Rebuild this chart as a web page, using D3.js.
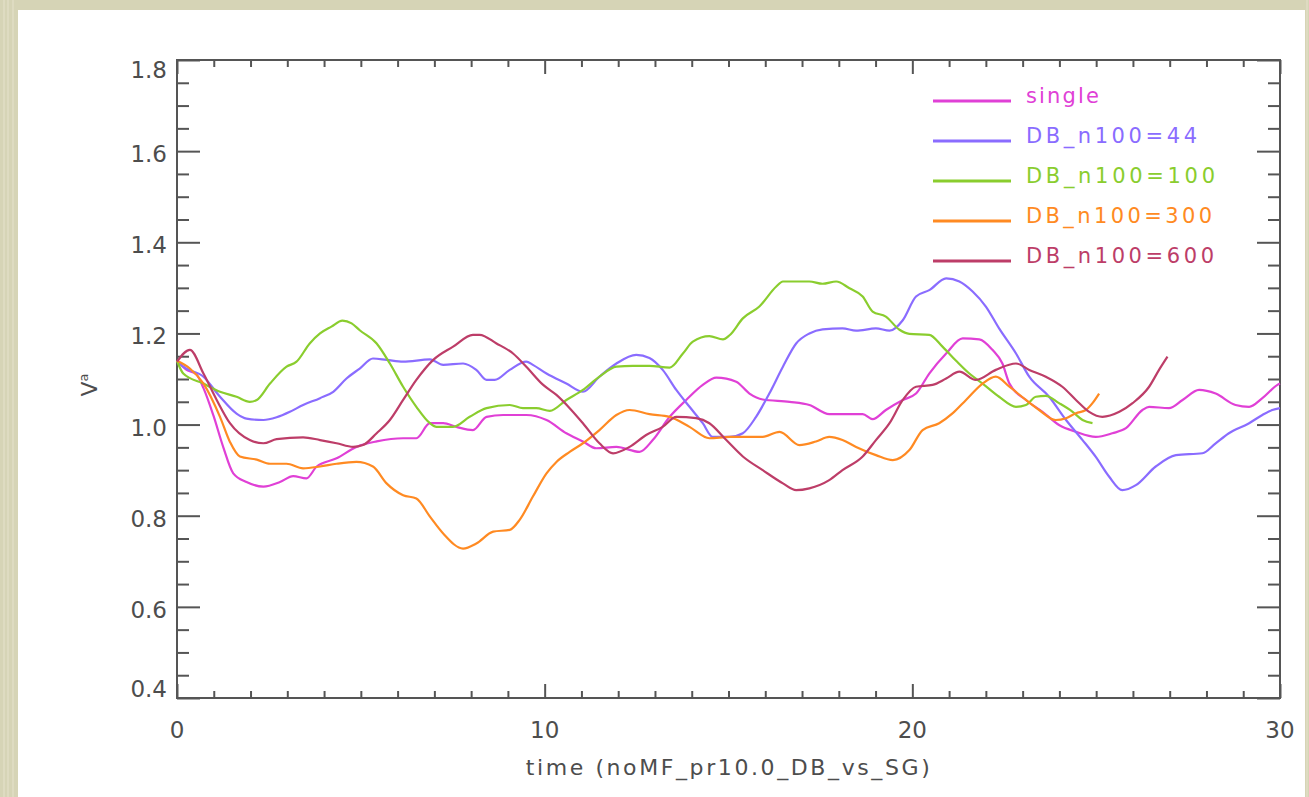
<!DOCTYPE html>
<html><head><meta charset="utf-8">
<script src="https://cdn.jsdelivr.net/npm/d3@7"></script>
<style>body{margin:0;background:#d6d4b6;} svg{display:block}</style>
</head><body><svg id="c" width="1309" height="797"></svg>
<script>
// ---------- data ----------
const seriesNames = ["single", "DB_n100=44", "DB_n100=100", "DB_n100=300", "DB_n100=600"];
const seriesColors = ["#e040d6", "#8a6cff", "#8acd2e", "#ff8a22", "#bd3d68"];

const tSingle = [0,0.26,0.53,0.72,0.99,1.26,1.53,1.89,2.35,2.8,3.16,3.52,3.8,4.34,4.88,5.43,6.15,6.51,6.88,7.24,7.6,8.05,8.42,8.87,9.5,10.05,10.59,11.04,11.4,11.95,12.58,12.94,13.4,13.85,14.3,14.67,15.21,15.57,15.93,16.66,17.2,17.74,18.65,18.92,19.28,19.74,20.1,20.46,20.92,21.37,21.82,22.18,22.45,22.64,23.09,23.54,23.99,24.45,24.99,25.44,25.81,26.26,26.44,26.98,27.35,27.8,28.25,28.79,29.16,29.52,29.93,30];
const vSingle = [1.14,1.12,1.11,1.08,1.02,0.95,0.893,0.874,0.864,0.874,0.887,0.882,0.908,0.926,0.951,0.963,0.97,0.97,1.003,1.003,0.995,0.988,1.017,1.021,1.021,1.01,0.981,0.963,0.948,0.951,0.94,0.966,1.017,1.054,1.087,1.103,1.094,1.068,1.055,1.05,1.043,1.023,1.023,1.012,1.032,1.054,1.068,1.112,1.156,1.189,1.187,1.164,1.134,1.09,1.054,1.028,0.999,0.984,0.973,0.981,0.992,1.032,1.039,1.036,1.054,1.076,1.068,1.043,1.039,1.058,1.087,1.09];

const tDB44 = [0,0.17,0.72,1.17,1.62,1.89,2.35,2.71,3.07,3.43,3.89,4.25,4.61,4.97,5.33,5.7,6.15,6.88,7.24,7.78,8.14,8.42,8.64,9.05,9.5,9.68,10.05,10.59,11.04,11.49,11.95,12.49,12.85,13.21,13.58,13.94,14.3,14.57,15.03,15.39,15.75,16.11,16.48,16.84,17.2,17.56,18.1,18.47,19.01,19.38,19.74,20.1,20.46,20.92,21.28,21.64,22.0,22.36,22.82,23.18,23.72,24.18,24.63,24.99,25.35,25.71,26.08,26.62,27.17,27.89,28.25,28.61,29.16,29.52,29.79,30];
const vDB44 = [1.14,1.127,1.105,1.061,1.024,1.013,1.01,1.016,1.028,1.043,1.058,1.072,1.101,1.123,1.145,1.142,1.138,1.143,1.131,1.134,1.12,1.098,1.098,1.12,1.138,1.131,1.112,1.09,1.072,1.105,1.134,1.153,1.146,1.12,1.076,1.039,1.003,0.973,0.973,0.981,1.017,1.068,1.127,1.178,1.2,1.209,1.211,1.206,1.211,1.206,1.229,1.281,1.295,1.321,1.314,1.292,1.259,1.211,1.156,1.105,1.061,1.01,0.966,0.929,0.886,0.856,0.867,0.908,0.933,0.937,0.959,0.981,1.003,1.021,1.032,1.036];

const tDB100 = [0,0.17,0.72,1.17,1.62,1.98,2.17,2.53,2.98,3.25,3.61,3.89,4.2,4.5,4.75,4.97,5.43,5.79,6.15,6.51,6.88,7.06,7.51,7.96,8.42,9.05,9.41,9.77,10.14,10.59,11.04,11.49,11.95,12.4,12.85,13.4,13.76,14.03,14.48,14.85,15.03,15.39,15.84,16.3,16.48,17.2,17.56,17.93,18.29,18.65,18.92,19.28,19.65,19.92,20.46,20.82,21.19,21.55,21.91,22.36,22.82,23.09,23.36,23.63,23.99,24.36,24.63,24.9];
const vDB100 = [1.14,1.112,1.09,1.072,1.061,1.05,1.054,1.09,1.127,1.138,1.178,1.2,1.215,1.228,1.222,1.207,1.178,1.134,1.083,1.039,1.003,0.995,0.995,1.017,1.036,1.043,1.036,1.036,1.03,1.054,1.076,1.105,1.127,1.129,1.129,1.125,1.156,1.182,1.194,1.187,1.196,1.233,1.259,1.303,1.314,1.314,1.309,1.314,1.299,1.281,1.248,1.237,1.208,1.199,1.197,1.171,1.14,1.112,1.09,1.061,1.039,1.043,1.061,1.063,1.047,1.028,1.01,1.003];

const tDB300 = [0,0.35,0.72,1.17,1.44,1.71,2.17,2.53,2.98,3.43,3.89,4.34,4.88,5.33,5.7,6.15,6.51,6.88,7.24,7.78,8.14,8.6,9.05,9.32,9.68,10.05,10.32,10.68,11.04,11.49,11.95,12.31,12.85,13.4,13.94,14.48,15.03,15.93,16.39,16.93,17.38,17.74,18.1,18.47,19.01,19.47,19.92,20.28,20.73,21.1,21.46,21.91,22.27,22.64,23.09,23.45,23.9,24.18,24.45,24.72,24.9,25.08];
const vDB300 = [1.14,1.123,1.09,1.017,0.962,0.93,0.923,0.914,0.914,0.904,0.908,0.914,0.918,0.908,0.871,0.845,0.838,0.798,0.761,0.728,0.739,0.765,0.769,0.791,0.842,0.893,0.918,0.94,0.959,0.988,1.021,1.032,1.023,1.017,0.995,0.97,0.973,0.973,0.984,0.955,0.963,0.973,0.966,0.951,0.933,0.922,0.944,0.988,1.003,1.025,1.054,1.09,1.105,1.083,1.054,1.032,1.01,1.014,1.025,1.032,1.047,1.068];

const tDB600 = [0,0.35,0.72,1.08,1.44,1.98,2.35,2.71,3.43,3.89,4.34,4.79,5.06,5.43,5.79,6.15,6.51,6.97,7.51,8.05,8.23,8.69,9.14,9.5,9.96,10.32,10.68,11.04,11.49,11.86,12.31,12.76,13.21,13.58,14.12,14.48,14.94,15.39,15.93,16.48,16.84,17.2,17.74,18.1,18.65,19.01,19.38,19.74,20.1,20.55,20.92,21.28,21.73,22.27,22.82,23.18,23.63,24.08,24.45,24.81,25.17,25.63,25.99,26.44,26.71,26.94];
const vDB600 = [1.138,1.164,1.112,1.054,1.003,0.966,0.959,0.968,0.972,0.966,0.959,0.951,0.955,0.981,1.01,1.054,1.098,1.142,1.171,1.197,1.197,1.178,1.156,1.127,1.087,1.065,1.036,1.003,0.959,0.937,0.951,0.977,0.995,1.017,1.014,1.003,0.966,0.93,0.9,0.871,0.856,0.86,0.878,0.9,0.93,0.966,1.003,1.054,1.083,1.087,1.101,1.116,1.098,1.12,1.134,1.12,1.105,1.083,1.054,1.028,1.017,1.028,1.047,1.083,1.12,1.149];

const xTickValues = [0, 10, 20, 30];
const xTickLabels = ["0", "10", "20", "30"];
const yTickValues = [0.4, 0.6, 0.8, 1.0, 1.2, 1.4, 1.6, 1.8];
const yTickLabels = ["0.4", "0.6", "0.8", "1.0", "1.2", "1.4", "1.6", "1.8"];
const xTitle = "time (noMF_pr10.0_DB_vs_SG)";

// ---------- drawing ----------
const svg = d3.select("#c");
svg.append("rect").attr("x",0).attr("y",0).attr("width",1309).attr("height",797).attr("fill","#d6d4b6");
const streaks = [3, 7, 12, 1306];
svg.selectAll("rect.streak").data(streaks).enter().append("rect")
  .attr("x", d => d).attr("y", 0).attr("width", 2).attr("height", 797)
  .attr("fill", "#e2e0c8").attr("opacity", 0.6);
svg.append("rect").attr("x",18).attr("y",10).attr("width",1287).attr("height",800).attr("fill","#ffffff");

const x = d3.scaleLinear().domain([0, 30]).range([177, 1280]);
const y = d3.scaleLinear().domain([0.4, 1.8]).range([698, 60]);

const axisColor = "#555555";
const xMinor = d3.range(0, 31, 1).filter(v => v % 10 !== 0);
const yMinor = d3.range(0, 29).map(i => +(0.4 + i * 0.05).toFixed(2)).filter(v => Math.abs(v*5 - Math.round(v*5)) > 1e-6);

function styleAxis(g) {
  g.select(".domain").remove();
  g.selectAll(".tick line").attr("stroke", axisColor).attr("stroke-width", 2);
  g.selectAll(".tick text").remove();
}
svg.append("g").attr("transform","translate(0,698)").call(d3.axisBottom(x).tickValues(xTickValues).tickSize(-14)).call(styleAxis);
svg.append("g").attr("transform","translate(0,698)").call(d3.axisBottom(x).tickValues(xMinor).tickSize(-7)).call(styleAxis);
svg.append("g").attr("transform","translate(0,60)").call(d3.axisTop(x).tickValues(xTickValues).tickSize(-14)).call(styleAxis);
svg.append("g").attr("transform","translate(0,60)").call(d3.axisTop(x).tickValues(xMinor).tickSize(-7)).call(styleAxis);
svg.append("g").attr("transform","translate(177,0)").call(d3.axisLeft(y).tickValues(yTickValues).tickSize(-23)).call(styleAxis);
svg.append("g").attr("transform","translate(177,0)").call(d3.axisLeft(y).tickValues(yMinor).tickSize(-12)).call(styleAxis);
svg.append("g").attr("transform","translate(1280,0)").call(d3.axisRight(y).tickValues(yTickValues).tickSize(-23)).call(styleAxis);
svg.append("g").attr("transform","translate(1280,0)").call(d3.axisRight(y).tickValues(yMinor).tickSize(-12)).call(styleAxis);

svg.append("rect").attr("x", x(0)).attr("y", y(1.8)).attr("width", x(30)-x(0)).attr("height", y(0.4)-y(1.8))
  .attr("fill","none").attr("stroke", axisColor).attr("stroke-width", 2);

const labelFont = "'DejaVu Sans', sans-serif";
svg.selectAll("text.ylab").data(yTickValues).enter().append("text")
  .attr("x", 167)
  .attr("y", (d, i) => y(d) + (i === yTickValues.length - 1 ? 18 : (i === 0 ? -1 : 11)))
  .attr("text-anchor", "end").attr("font-family", labelFont).attr("font-size", 23)
  .attr("fill", "#4d4d4d").text((d, i) => yTickLabels[i]);
svg.selectAll("text.xlab").data(xTickValues).enter().append("text")
  .attr("x", d => x(d)).attr("y", 738)
  .attr("text-anchor", "middle").attr("font-family", labelFont).attr("font-size", 23)
  .attr("fill", "#4d4d4d").text((d, i) => xTickLabels[i]);
svg.append("text").attr("x", 729).attr("y", 775).attr("text-anchor","middle")
  .attr("font-family", labelFont).attr("font-size", 22).attr("letter-spacing", 2.6)
  .attr("fill", "#4d4d4d").text(xTitle);
const yt = svg.append("text").attr("transform","translate(97,385) rotate(-90)").attr("text-anchor","middle")
  .attr("font-family", labelFont).attr("font-size", 22).attr("fill", "#4d4d4d");
yt.append("tspan").text("V");
yt.append("tspan").attr("font-size", 13).attr("dy", -9).text("a");

const allT = [tSingle, tDB44, tDB100, tDB300, tDB600];
const allV = [vSingle, vDB44, vDB100, vDB300, vDB600];
const line = d3.line().x(d => x(d[0])).y(d => y(d[1])).curve(d3.curveMonotoneX);
seriesNames.forEach((name, i) => {
  const pts = allT[i].map((t, j) => [t, allV[i][j]]);
  svg.append("path").datum(pts).attr("d", line)
    .attr("fill", "none").attr("stroke", seriesColors[i]).attr("stroke-width", 2.2)
    .attr("stroke-linejoin", "round");
});

const legendY = d3.scaleLinear().domain([0, 4]).range([101, 261]);
const legendTextWidths = [73, 171, 189, 186, 188];
seriesNames.forEach((name, i) => {
  const ly = legendY(i);
  svg.append("line").attr("x1", 933).attr("x2", 1011).attr("y1", ly).attr("y2", ly)
    .attr("stroke", seriesColors[i]).attr("stroke-width", 3);
  svg.append("text").attr("x", 1026).attr("y", ly + 2)
    .attr("font-family", labelFont).attr("font-size", 21)
    .attr("textLength", legendTextWidths[i]).attr("lengthAdjust", "spacing")
    .attr("fill", seriesColors[i]).text(name);
});
</script></body></html>
